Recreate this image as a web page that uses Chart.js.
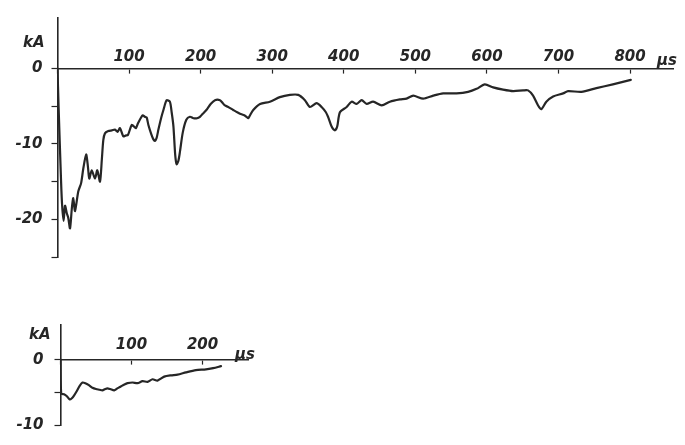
<!DOCTYPE html>
<html>
<head>
<meta charset="utf-8">
<script src="https://cdn.jsdelivr.net/npm/chart.js@4/dist/chart.umd.min.js"></script>
<style>
  html, body { margin: 0; padding: 0; background: #ffffff; }
  #wrap { position: relative; width: 685px; height: 445px; overflow: hidden; }
  #top, #bottom { position: absolute; left: 0; }
  #top { top: 0; }
  #bottom { top: 300px; }
</style>
</head>
<body>
<div id="wrap">
  <canvas id="top" width="685" height="275"></canvas>
  <canvas id="bottom" width="685" height="145"></canvas>
</div>
<script>
// Upper record: current (kA) against time (μs)
const timeTop = [0, 1.5, 5, 6.5, 8.5, 10.5, 13, 15, 17.5, 20, 22, 24.5, 29, 33, 36, 40, 42.5, 44.4, 47.8, 52.4,
  55.6, 59.4, 62, 64, 66.3, 71, 76, 80.3, 84, 87.3, 91.9, 95, 98.5, 103.6, 107, 109.6, 112.8, 119, 122, 124.6,
  127, 131, 134, 136, 138.5, 141, 145, 148, 152.5, 157, 159.5, 162, 164.5, 166.5, 169, 171, 175, 180, 185, 190,
  195, 199, 203, 208, 214, 220, 227, 231, 234, 238.5, 245.5, 255, 261, 264, 266.5, 269, 273.5, 283, 296.8, 310.6,
  324.7, 336.3, 345.7, 352.7, 362, 369, 375, 378, 383, 387.6, 390.8, 394.6, 404, 411, 418, 425, 432, 441, 453, 464.4,
  478.4, 487.7, 497, 511, 525, 538.8, 557.5, 573.7, 585.5, 597, 608.7, 622.6, 636.6, 650.6, 657.5, 664.5, 671.5, 676, 683, 692.5,
  706.4, 713.4, 732, 753, 776, 801];
const currentTop = [0, -5, -15, -18.2, -20.2, -18.2, -19.2, -19.8, -21.2, -18.6, -17.2, -18.9, -16.3, -15.2, -13.3, -11.4, -13, -14.6, -13.5, -14.6,
  -13.5, -15, -12, -9.5, -8.6, -8.3, -8.2, -8.1, -8.4, -7.9, -9, -8.9, -8.8, -7.5, -7.7, -7.9, -7.2, -6.2, -6.4, -6.5,
  -7.5, -8.7, -9.4, -9.6, -9.2, -8.1, -6.5, -5.5, -4.2, -4.4, -5.8, -7.7, -11.5, -12.7, -12.2, -11.1, -8.5, -6.8, -6.4, -6.6,
  -6.6, -6.4, -6.0, -5.5, -4.7, -4.2, -4.2, -4.6, -4.9, -5.1, -5.5, -6, -6.2, -6.4, -6.6, -6.2, -5.5, -4.7, -4.4, -3.8,
  -3.5, -3.5, -4.2, -5.1, -4.6, -5.1, -5.8, -6.4, -7.7, -8.2, -7.7, -5.8, -5.1, -4.4, -4.7, -4.2, -4.7, -4.4, -4.9, -4.4,
  -4.1, -4.0, -3.6, -4.0, -3.6, -3.3, -3.3, -3.1, -2.7, -2.1, -2.5, -2.8, -3.0, -2.9, -2.9, -3.6, -4.9, -5.4, -4.4, -3.7,
  -3.3, -3.0, -3.1, -2.6, -2.1, -1.5];

// Lower record
const timeBottom = [0, 1, 5, 9, 13, 16, 19, 23, 27, 31, 35, 40, 45, 50, 55, 59, 63, 66, 70, 75.6,
  80, 85, 90, 94.4, 101.4, 108.5, 115.5, 122.5, 129.6, 136.6, 146, 155.5, 164.8, 176.6, 190.7, 204.8, 215, 226];
const currentBottom = [0, -5.2, -5.3, -5.6, -6.1, -5.9, -5.5, -4.8, -4.0, -3.5, -3.6, -3.9, -4.3, -4.5, -4.6, -4.7, -4.5, -4.4, -4.5, -4.7,
  -4.4, -4.1, -3.8, -3.6, -3.5, -3.6, -3.3, -3.4, -3.0, -3.2, -2.6, -2.4, -2.3, -1.95, -1.6, -1.5, -1.3, -1.0];

// Axis ticks
const xTickStep = 100;
const yTickStep = 5;
const yLabelledTicks = [0, -10, -20];
const unitCurrent = 'kA';
const unitTime = 'μs';

const INK = '#262626';
const FONT_FAMILY = "'DejaVu Sans', sans-serif";

function toPoints(xs, ys) {
  return xs.map((x, i) => ({ x: x, y: ys[i] }));
}

// Draws the unit names next to the axes
const unitLabels = {
  id: 'unitLabels',
  afterDraw(chart, args, opts) {
    const { ctx, chartArea, scales } = chart;
    const zero = scales.y.getPixelForValue(0);
    ctx.save();
    ctx.fillStyle = INK;
    ctx.font = 'italic bold 15px ' + FONT_FAMILY;
    ctx.textBaseline = 'middle';
    ctx.textAlign = 'right';
    ctx.fillText(unitCurrent, chartArea.left - opts.kaGap, zero - 25);
    ctx.textAlign = 'left';
    ctx.fillText(unitTime, chartArea.right - opts.usBack, zero - opts.usLift);
    ctx.restore();
  }
};

function makeChart(canvasId, xs, ys, cfg) {
  return new Chart(document.getElementById(canvasId), {
    type: 'line',
    data: {
      datasets: [{
        data: toPoints(xs, ys),
        borderColor: INK,
        borderWidth: 2.2,
        pointRadius: 0,
        tension: 0.25,
        borderJoinStyle: 'round',
        borderCapStyle: 'round',
        fill: false
      }]
    },
    options: {
      responsive: false,
      animation: false,
      events: [],
      layout: { padding: cfg.padding },
      plugins: {
        legend: { display: false },
        tooltip: { enabled: false },
        unitLabels: cfg.units
      },
      scales: {
        x: {
          type: 'linear',
          position: { y: 0 },
          min: 0,
          max: cfg.xMax,
          afterFit(scale) { scale.height = 0; },
          border: { display: true, color: INK, width: 1.6 },
          grid: {
            drawOnChartArea: false,
            drawTicks: true,
            tickLength: 4,
            tickWidth: 1.2,
            tickColor: INK
          },
          ticks: {
            stepSize: xTickStep,
            includeBounds: false,
            autoSkip: false,
            maxRotation: 0,
            padding: cfg.xLabelPad,
            color: INK,
            font: { family: FONT_FAMILY, size: 15, style: 'italic', weight: 'bold' },
            callback: v => (v === 0 ? '' : String(v))
          }
        },
        y: {
          type: 'linear',
          position: 'left',
          min: cfg.yMin,
          max: cfg.yMax,
          afterFit(scale) { scale.width = cfg.left; },
          border: { display: true, color: INK, width: 1.6 },
          grid: {
            drawOnChartArea: false,
            drawTicks: true,
            tickLength: 6,
            tickWidth: 1.2,
            tickColor: c => (c.tick && c.tick.value > 0 ? 'rgba(0,0,0,0)' : INK)
          },
          ticks: {
            stepSize: yTickStep,
            includeBounds: false,
            autoSkip: false,
            padding: cfg.yLabelPad,
            color: INK,
            font: { family: FONT_FAMILY, size: 15, style: 'italic', weight: 'bold' },
            callback: v => (yLabelledTicks.includes(v) ? String(v) : '')
          }
        }
      }
    },
    plugins: [unitLabels]
  });
}

makeChart('top', timeTop, currentTop, {
  padding: { left: 0, top: 15, right: 12, bottom: 17 },
  left: 57.5,
  xMax: 860,
  yMin: -25,
  yMax: 6.7,
  xLabelPad: -24,
  yLabelPad: 9,
  units: { kaGap: 13, usBack: 16, usLift: 7 }
});

makeChart('bottom', timeBottom, currentBottom, {
  padding: { left: 0, top: 25, right: 437, bottom: 10 },
  left: 60.5,
  xMax: 264,
  yMin: -10,
  yMax: 5.3,
  xLabelPad: -28,
  yLabelPad: 11,
  units: { kaGap: 10, usBack: 13, usLift: 5 }
});
</script>
</body>
</html>
